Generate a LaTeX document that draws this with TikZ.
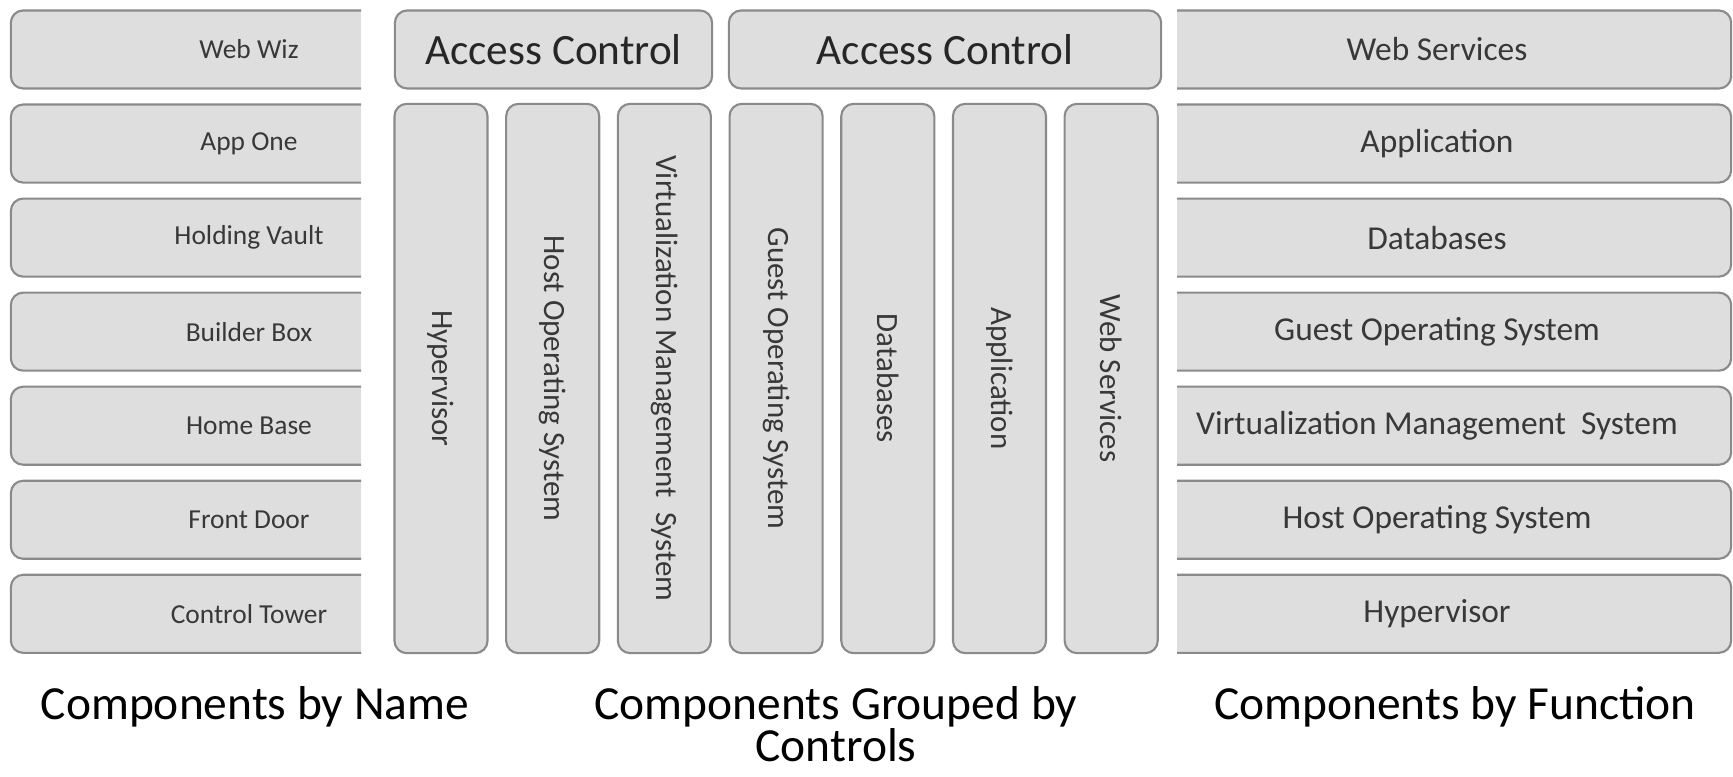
\documentclass[tikz,border=0pt]{standalone}
\usepackage{fontspec}
\setmainfont{Carlito}
\usetikzlibrary{positioning}
\definecolor{boxfill}{HTML}{DEDEDE}
\definecolor{boxline}{HTML}{8A8A8A}
\definecolor{boxtext}{HTML}{383838}
\tikzset{
    namebox/.style={
           rectangle,
           rounded corners=3.5pt,
           draw=boxline, line width=0.6pt,
           fill=boxfill,
           minimum width=4.76cm,
           minimum height=0.78cm,
           text=boxtext,
           font=\fontsize{7.8}{9}\selectfont
           },
    funcbox/.style={
           namebox,
           minimum width=5.88cm,
           font=\fontsize{9.5}{11}\selectfont
           },
    ctrlbox/.style={
           namebox,
           text=black!85,
           font=\fontsize{12.3}{14}\selectfont
           },
    layer/.style={
           namebox,
           rotate=-90,
           minimum width=5.49cm,
           minimum height=0.93cm,
           font=\fontsize{8.8}{10}\selectfont
           },
    caption/.style={
           anchor=base,
           inner sep=0pt,
           font=\fontsize{13.5}{15.1}\selectfont
           }
}

\begin{document}
\begin{tikzpicture}[x=0.01cm, y=-0.01cm, node distance=0.94cm, on grid]
\useasboundingbox (0,0) rectangle (1733,777);
% components by name
\begin{scope}
   \clip (0,0) rectangle (361,777);
   \node[namebox] (webwiz) at (249,49.5) {Web Wiz};
   \node[namebox] (appone) [below=of webwiz] {App One};
   \node[namebox] (vault) [below=of appone] {Holding Vault};
   \node[namebox] (builder) [below=of vault] {Builder Box};
   \node[namebox] (homebase) [below=of builder] {Home Base};
   \node[namebox] (frontdoor) [below=of homebase] {Front Door};
   \node[namebox] (tower) [below=of frontdoor] {Control Tower};
\end{scope}
% components grouped by controls
   \node[ctrlbox, minimum width=3.17cm] (acc1) at (553.5,49.5) {Access Control};
   \node[ctrlbox, minimum width=4.32cm] (acc2) at (945,49.5) {Access Control};
   \foreach \name/\txt [count=\i from 0] in {hyp/Hypervisor, hostos/Host Operating System,
        vms/Virtualization Management~ System, guestos/Guest Operating System,
        db/Databases, app/Application, websvc/Web Services}
      \node[layer] (\name) at (441+111.7*\i,378.5) {\txt};
% components by function
\begin{scope}
   \clip (1177,0) rectangle (1733,777);
   \node[funcbox] (fweb) at (1437,49.5) {Web Services};
   \node[funcbox] (fapp) [below=of fweb] {Application};
   \node[funcbox] (fdb) [below=of fapp] {Databases};
   \node[funcbox] (fguest) [below=of fdb] {Guest Operating System};
   \node[funcbox] (fvms) [below=of fguest] {Virtualization Management~ System};
   \node[funcbox] (fhost) [below=of fvms] {Host Operating System};
   \node[funcbox] (fhyp) [below=of fhost] {Hypervisor};
\end{scope}
% captions
   \node[caption] (byname) at (255,720) {Components by Name};
   \node[caption] (bygroup) at (836,720) {Components Grouped by};
   \node[caption] (controls) at (836,762) {Controls};
   \node[caption] (byfunc) at (1455,720) {Components by Function};
\end{tikzpicture}
\end{document}
